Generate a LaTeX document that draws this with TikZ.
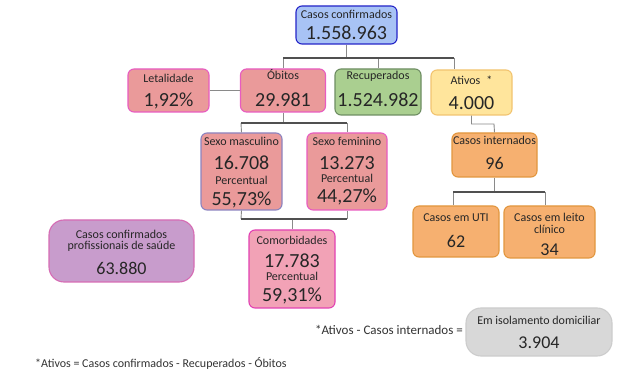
\documentclass[tikz,border=0pt]{standalone}
\usepackage{fontspec}
\setmainfont{Carlito}
\usepackage{xcolor}
\usetikzlibrary{positioning}

\definecolor{blueFill}{HTML}{A8C3F5}
\definecolor{blueLine}{HTML}{2424C8}
\definecolor{redFill}{HTML}{EA9A9A}
\definecolor{redLine}{HTML}{E85CC0}
\definecolor{masLine}{HTML}{8C84C0}
\definecolor{comFill}{HTML}{F2A2B6}
\definecolor{comLine}{HTML}{E242B2}
\definecolor{recFill}{HTML}{AACF90}
\definecolor{recLine}{HTML}{6E8E62}
\definecolor{atvFill}{HTML}{FFE59C}
\definecolor{atvLine}{HTML}{F2C470}
\definecolor{intFill}{HTML}{F6B070}
\definecolor{intLine}{HTML}{E2963E}
\definecolor{proFill}{HTML}{C89CCC}
\definecolor{proLine}{HTML}{D66CB4}
\definecolor{isoFill}{HTML}{D8D8D8}
\definecolor{isoLine}{HTML}{CCCCCC}
\definecolor{wireGray}{HTML}{8A8A8A}
\definecolor{barGray}{HTML}{505050}

\renewcommand{\arraystretch}{0}
\newcommand{\lbl}{\fontsize{12}{14}\selectfont}
\newcommand{\bignum}{\fontsize{20}{22}\selectfont}
\newcommand{\midnum}{\fontsize{18}{20}\selectfont}
% one line of a box: space above / below the baseline, then the text
\newcommand{\tl}[3]{\rule[-#2pt]{0pt}{\dimexpr#1pt+#2pt\relax}#3}
\newcommand{\stack}[1]{\begin{tabular}{@{}c@{}}#1\end{tabular}}

\begin{document}
\begin{tikzpicture}[x=1pt,y=-1pt,
    box/.style={draw, rounded corners=6pt, line width=1.1pt, inner sep=0pt,
      text=black!85},
    wire/.style={draw=wireGray, line width=0.9pt},
    bar/.style={draw=barGray, line width=2.4pt}]
  \useasboundingbox[fill=white] (0,0) rectangle (638,374);

  % top level
  \node[box, fill=blueFill, draw=blueLine, minimum width=101pt, minimum height=38pt]
    (casos) at (346.5,25)
    {\stack{\lbl\tl{13}{3}{Casos confirmados}\\ \bignum\tl{18}{4}{1.558.963}}};
  \node[box, fill=redFill, draw=redLine, minimum width=81pt, minimum height=43pt]
    (let) at (168.5,90.5)
    {\stack{\lbl\tl{14}{3}{Letalidade}\\ \bignum\tl{21}{5}{1,92\%}}};
  \node[box, fill=redFill, draw=redLine, minimum width=85pt, minimum height=43pt]
    (obitos) at (283,90.5)
    {\stack{\lbl\tl{11}{3}{Óbitos}\\ \bignum\tl{24}{5}{29.981}}};
  \node[box, fill=recFill, draw=recLine, minimum width=86pt, minimum height=46pt]
    (rec) at (378,92)
    {\stack{\lbl\tl{11}{3}{Recuperados}\\ \bignum\tl{24}{8}{1.524.982}}};
  \node[box, fill=atvFill, draw=atvLine, minimum width=81pt, minimum height=45pt]
    (ativos) at (471.5,92.5)
    {\stack{\lbl\tl{15}{3}{Ativos\enspace*}\\ \bignum\tl{22}{5}{4.000}}};

  % obitos by sex
  \node[box, fill=redFill, draw=masLine, minimum width=81pt, minimum height=77pt]
    (masc) at (241.5,171.5)
    {\stack{\lbl\tl{13}{3}{Sexo masculino}\\ \bignum\tl{21}{3}{16.708}\\
      \lbl\tl{12}{3}{Percentual}\\ \bignum\tl{18}{4}{55,73\%}}};
  \node[box, fill=redFill, draw=redLine, minimum width=80pt, minimum height=77pt]
    (fem) at (347,171.5)
    {\stack{\lbl\tl{13}{3}{Sexo feminino}\\ \bignum\tl{21}{3}{13.273}\\
      \lbl\tl{10}{3}{Percentual}\\ \bignum\tl{17}{7}{44,27\%}}};
  \node[box, fill=comFill, draw=comLine, minimum width=86pt, minimum height=78pt]
    (comorb) at (292,269)
    {\stack{\lbl\tl{15}{3}{Comorbidades}\\ \bignum\tl{20}{3}{17.783}\\
      \lbl\tl{10}{3}{Percentual}\\ \bignum\tl{18}{6}{59,31\%}}};

  % ativos breakdown
  \node[box, fill=intFill, draw=intLine, minimum width=85pt, minimum height=44pt]
    (intern) at (494.5,155)
    {\stack{\lbl\tl{12}{3}{Casos internados}\\ \midnum\tl{22}{7}{96}}};
  \node[box, fill=intFill, draw=intLine, minimum width=86pt, minimum height=51pt]
    (uti) at (456,231.5)
    {\stack{\lbl\tl{16}{3}{Casos em UTI}\\ \midnum\tl{23}{9}{62}}};
  \node[box, fill=intFill, draw=intLine, minimum width=91pt, minimum height=52pt]
    (leito) at (549.5,232)
    {\stack{\lbl\tl{16}{3}{Casos em leito}\\ \lbl\tl{9}{3}{clínico}\\
      \midnum\tl{19}{2}{34}}};

  % side boxes
  \node[box, fill=proFill, draw=proLine, rounded corners=15pt, minimum width=145pt,
    minimum height=62pt] (prof) at (121.5,251)
    {\stack{\lbl\tl{19}{2}{Casos confirmados}\\ \lbl\tl{9}{3}{profissionais de saúde}\\
      \midnum\tl{22}{7}{63.880}}};
  \node[box, fill=isoFill, draw=isoLine, rounded corners=15pt, minimum width=146pt,
    minimum height=48pt] (iso) at (539,332)
    {\stack{\lbl\tl{17}{3}{Em isolamento domiciliar}\\ \midnum\tl{20}{8}{3.904}}};

  \node[anchor=east, inner sep=0pt, font=\fontsize{13}{15}\selectfont, text=black!80]
    (isoeq) at (463,330) {*Ativos - Casos internados =};
  \node[anchor=west, inner sep=0pt, font=\fontsize{12}{14}\selectfont, text=black!80]
    (nota) at (35,363) {*Ativos = Casos confirmados - Recuperados - Óbitos};

  % connectors
  \coordinate (barL) at (283,58);
  \coordinate (barR) at (454,58);
  \draw[wire] (casos.south) -- (casos.south |- barL);
  \draw[wire] (barL) -- (obitos.north);
  \draw[wire] (rec.north |- barL) -- (rec.north);
  \draw[wire] (barR) -- (barR |- ativos.north);
  \draw[bar] (barL) -- (barR);
  \draw[wire] (let.east) -- (obitos.west);

  \coordinate (sexL) at (241,123);
  \coordinate (sexR) at (347,123);
  \draw[wire] (obitos.south) -- (obitos.south |- sexL);
  \draw[wire] (sexL) -- (masc.north);
  \draw[wire] (sexR) -- (fem.north);
  \draw[bar] (sexL) -- (sexR);

  \coordinate (comL) at (241,219);
  \coordinate (comR) at (347,219);
  \draw[wire] (masc.south) -- (comL);
  \draw[wire] (fem.south) -- (comR);
  \draw[wire] (comorb.north |- comL) -- (comorb.north);
  \draw[bar] (comL) -- (comR);

  \coordinate (atvTurn) at (494,124);
  \draw[wire] (ativos.south) |- (atvTurn) -- (intern.north);

  \coordinate (intL) at (453,192);
  \coordinate (intR) at (545,192);
  \draw[wire] (intern.south) -- (intern.south |- intL);
  \draw[wire] (intL) -- (intL |- uti.north);
  \draw[wire] (intR) -- (intR |- leito.north);
  \draw[bar] (intL) -- (intR);
\end{tikzpicture}
\end{document}
